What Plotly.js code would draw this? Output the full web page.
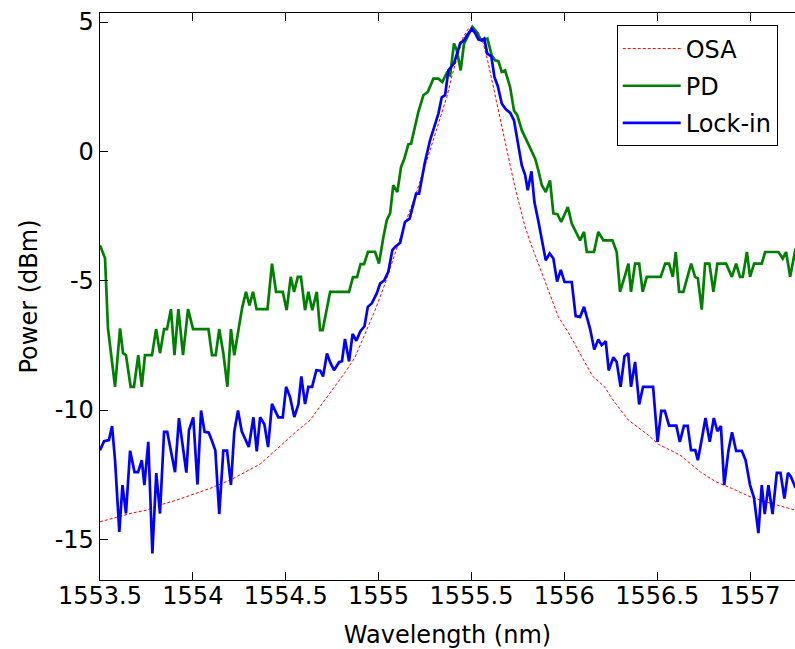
<!DOCTYPE html>
<html>
<head>
<meta charset="utf-8">
<script src="https://cdn.plot.ly/plotly-3.0.1.min.js"></script>
<style>html,body{margin:0;padding:0;background:#fff;}#chart{width:795px;height:649px;}</style>
</head>
<body>
<div id="chart"></div>
<script>
// OSA (red dotted) – wavelength (nm) and power (dBm)
const osaWl = [1553.500,1553.590,1553.679,1553.751,1553.823,1553.913,1554.002,1554.092,1554.200,1554.272,1554.362,1554.452,1554.541,1554.631,1554.685,1554.775,1554.828,1554.873,1554.927,1554.981,1555.035,1555.089,1555.142,1555.196,1555.232,1555.277,1555.322,1555.367,1555.403,1555.430,1555.456,1555.483,1555.510,1555.537,1555.564,1555.591,1555.618,1555.645,1555.672,1555.699,1555.726,1555.752,1555.789,1555.816,1555.860,1555.914,1555.968,1556.021,1556.076,1556.152,1556.219,1556.255,1556.345,1556.452,1556.506,1556.623,1556.734,1556.815,1556.902,1557.000,1557.108,1557.243,1557.260];
const osaPw = [-14.32,-14.15,-13.97,-13.87,-13.67,-13.48,-13.25,-13.03,-12.71,-12.44,-12.09,-11.51,-10.93,-10.39,-9.85,-9.00,-8.46,-7.96,-7.04,-6.14,-5.11,-3.95,-2.79,-1.76,-0.99,0.04,1.07,2.10,3.13,3.78,4.42,4.74,4.81,4.61,4.17,3.39,2.49,1.46,0.69,-0.22,-1.12,-1.89,-2.92,-3.50,-4.34,-5.37,-6.40,-6.99,-7.69,-8.69,-9.12,-9.54,-10.39,-10.97,-11.32,-11.74,-12.40,-12.77,-13.03,-13.35,-13.60,-13.86,-13.90];

// PD (green)
const pdWl = [1553.500,1553.527,1553.543,1553.581,1553.608,1553.624,1553.640,1553.665,1553.683,1553.706,1553.725,1553.742,1553.780,1553.802,1553.823,1553.845,1553.861,1553.882,1553.901,1553.922,1553.947,1553.974,1554.001,1554.084,1554.103,1554.123,1554.142,1554.164,1554.186,1554.205,1554.223,1554.245,1554.265,1554.286,1554.305,1554.324,1554.343,1554.402,1554.426,1554.448,1554.484,1554.505,1554.527,1554.545,1554.565,1554.582,1554.604,1554.622,1554.643,1554.667,1554.685,1554.699,1554.739,1554.841,1554.862,1554.884,1554.903,1554.922,1554.943,1554.981,1555.002,1555.026,1555.044,1555.062,1555.079,1555.101,1555.121,1555.139,1555.160,1555.175,1555.196,1555.214,1555.241,1555.265,1555.295,1555.322,1555.343,1555.367,1555.385,1555.406,1555.421,1555.442,1555.460,1555.483,1555.505,1555.529,1555.546,1555.564,1555.586,1555.609,1555.627,1555.645,1555.663,1555.681,1555.708,1555.729,1555.747,1555.771,1555.789,1555.816,1555.843,1555.860,1555.879,1555.900,1555.923,1555.941,1555.963,1555.983,1556.019,1556.040,1556.067,1556.085,1556.106,1556.121,1556.160,1556.183,1556.210,1556.259,1556.282,1556.300,1556.327,1556.345,1556.359,1556.381,1556.403,1556.422,1556.444,1556.519,1556.543,1556.564,1556.584,1556.600,1556.618,1556.641,1556.663,1556.683,1556.704,1556.719,1556.740,1556.758,1556.781,1556.803,1556.824,1556.871,1556.902,1556.925,1556.946,1556.961,1556.983,1557.000,1557.022,1557.063,1557.081,1557.153,1557.176,1557.194,1557.216,1557.243,1557.260];
const pdPw = [-3.63,-4.13,-6.84,-9.10,-6.84,-7.80,-7.88,-9.10,-9.10,-7.88,-9.10,-7.88,-7.88,-6.87,-7.80,-6.87,-6.87,-6.10,-7.88,-6.10,-7.88,-6.10,-6.87,-6.87,-7.88,-7.88,-6.87,-7.80,-9.10,-6.87,-7.88,-6.87,-6.06,-5.43,-5.95,-5.43,-6.10,-6.10,-4.34,-5.43,-5.43,-6.14,-4.85,-5.43,-4.85,-4.85,-6.14,-5.43,-6.14,-5.43,-6.91,-6.91,-5.43,-5.43,-4.86,-4.86,-4.36,-4.36,-3.88,-3.88,-4.34,-3.31,-2.66,-2.40,-1.31,-1.57,-0.60,-0.28,0.27,0.30,1.01,1.52,2.17,2.30,2.81,2.81,2.68,3.03,2.94,4.17,3.91,3.13,4.17,4.49,4.81,4.61,4.36,4.29,4.36,3.71,3.52,3.49,3.07,3.13,2.49,1.58,1.39,0.82,0.56,0.17,-0.28,-0.73,-1.31,-1.57,-1.12,-2.40,-2.43,-2.73,-2.15,-2.79,-3.18,-3.44,-3.11,-3.89,-3.89,-3.11,-3.44,-3.44,-3.89,-5.43,-4.79,-4.34,-5.43,-4.34,-4.34,-5.43,-4.85,-4.85,-4.34,-4.34,-4.85,-3.89,-5.43,-5.43,-4.85,-4.34,-4.85,-4.91,-6.12,-4.34,-4.34,-5.43,-4.34,-4.34,-4.85,-4.34,-4.85,-4.85,-3.89,-4.85,-4.34,-4.34,-3.89,-3.89,-4.14,-3.89,-4.85,-3.82,-3.60];

// Lock-in (blue)
const liWl = [1553.500,1553.522,1553.548,1553.565,1553.581,1553.604,1553.621,1553.640,1553.662,1553.686,1553.705,1553.725,1553.739,1553.760,1553.782,1553.803,1553.823,1553.845,1553.862,1553.904,1553.925,1553.965,1553.979,1554.002,1554.025,1554.044,1554.063,1554.085,1554.101,1554.121,1554.142,1554.164,1554.184,1554.205,1554.223,1554.243,1554.263,1554.301,1554.326,1554.344,1554.362,1554.385,1554.405,1554.426,1554.460,1554.484,1554.502,1554.523,1554.546,1554.568,1554.584,1554.604,1554.622,1554.642,1554.665,1554.686,1554.701,1554.722,1554.740,1554.760,1554.787,1554.803,1554.819,1554.841,1554.860,1554.880,1554.902,1554.924,1554.942,1554.963,1554.990,1555.008,1555.031,1555.052,1555.074,1555.089,1555.116,1555.142,1555.167,1555.182,1555.202,1555.218,1555.234,1555.250,1555.277,1555.289,1555.304,1555.322,1555.340,1555.358,1555.376,1555.394,1555.406,1555.421,1555.440,1555.460,1555.476,1555.502,1555.519,1555.537,1555.555,1555.569,1555.585,1555.607,1555.624,1555.642,1555.663,1555.685,1555.709,1555.729,1555.744,1555.752,1555.771,1555.789,1555.803,1555.823,1555.839,1555.861,1555.880,1555.900,1555.921,1555.941,1555.961,1555.981,1556.001,1556.040,1556.061,1556.085,1556.106,1556.139,1556.161,1556.183,1556.201,1556.223,1556.239,1556.264,1556.282,1556.303,1556.324,1556.344,1556.359,1556.381,1556.403,1556.424,1556.478,1556.502,1556.522,1556.541,1556.564,1556.603,1556.622,1556.644,1556.664,1556.682,1556.705,1556.719,1556.741,1556.760,1556.783,1556.805,1556.824,1556.843,1556.861,1556.884,1556.903,1556.925,1556.956,1556.976,1557.000,1557.021,1557.045,1557.063,1557.079,1557.099,1557.121,1557.144,1557.164,1557.185,1557.204,1557.220,1557.243,1557.260];
const liPw = [-11.55,-11.20,-11.16,-10.62,-11.94,-14.71,-12.90,-14.00,-11.57,-12.40,-12.40,-11.94,-12.90,-11.23,-15.54,-12.44,-14.00,-10.84,-10.84,-12.40,-10.31,-12.42,-10.78,-10.28,-12.88,-10.02,-10.84,-10.87,-11.16,-11.56,-14.02,-11.57,-11.57,-12.89,-10.84,-10.02,-10.82,-11.43,-10.28,-11.60,-10.28,-10.55,-11.43,-9.76,-10.28,-10.28,-9.10,-9.49,-10.27,-9.78,-8.70,-9.77,-9.10,-9.10,-8.46,-8.48,-8.70,-7.81,-8.17,-8.46,-8.15,-8.11,-7.25,-8.12,-7.06,-7.32,-6.95,-6.76,-6.01,-5.88,-5.49,-5.11,-4.98,-4.66,-3.82,-3.69,-3.53,-2.73,-2.60,-2.21,-1.63,-1.63,-0.99,-0.40,0.43,0.69,0.98,1.46,2.09,2.17,3.13,3.31,3.40,3.75,4.20,4.29,4.49,4.73,4.58,4.33,4.29,4.36,3.78,3.67,2.87,2.52,1.85,1.63,1.49,1.20,0.56,0.11,-0.54,-0.92,-1.50,-0.77,-1.96,-2.73,-3.50,-4.21,-3.95,-4.14,-5.03,-4.58,-5.05,-5.05,-6.37,-6.40,-6.01,-6.87,-7.66,-7.27,-7.49,-7.34,-8.47,-7.96,-8.14,-9.10,-7.92,-7.81,-9.10,-8.14,-9.78,-9.10,-9.10,-11.23,-10.03,-10.03,-10.60,-10.60,-11.23,-10.61,-10.61,-11.55,-11.55,-11.94,-11.09,-10.31,-11.23,-10.31,-10.82,-10.62,-12.90,-11.55,-10.86,-11.58,-11.58,-11.94,-12.90,-13.38,-14.76,-12.90,-14.02,-12.90,-14.02,-12.43,-12.43,-13.42,-12.43,-12.58,-12.97,-13.10];

const xTickVals = [1553.5,1554,1554.5,1555,1555.5,1556,1556.5,1557];
const xTickText = ["1553.5","1554","1554.5","1555","1555.5","1556","1556.5","1557"];
const yTickVals = [-15,-10,-5,0,5];
const yTickText = ["-15","-10","-5","0","5"];

const traces = [
  {x: osaWl, y: osaPw, name: "OSA", mode: "lines", legendgroup: "a",
   line: {color: "#ff0000", width: 1, dash: "3px,2px"}},
  {x: pdWl, y: pdPw, name: "PD", mode: "lines", legendgroup: "b",
   line: {color: "#008000", width: 2.7}},
  {x: liWl, y: liPw, name: "Lock-in", mode: "lines", legendgroup: "c",
   line: {color: "#0000ff", width: 2.7}}
];

const layout = {
  width: 795, height: 649,
  margin: {l: 100, r: 0, t: 13, b: 69, pad: 0},
  paper_bgcolor: "#fff", plot_bgcolor: "#fff",
  font: {family: "DejaVu Sans", size: 24, color: "#000"},
  showlegend: true,
  legend: {x: 0.7435, y: 0.978, xanchor: "left", yanchor: "top",
           bgcolor: "#fff", bordercolor: "#000", borderwidth: 1,
           font: {family: "DejaVu Sans", size: 24, color: "#000"},
           itemwidth: 58, tracegroupgap: 3},
  xaxis: {range: [1553.5, 1557.242], tickvals: xTickVals, ticktext: xTickText,
          ticks: "inside", ticklen: 8, tickwidth: 1, tickcolor: "#000",
          ticklabelstandoff: -6,
          showline: true, linecolor: "#000", linewidth: 1.3, mirror: "ticks",
          showgrid: false, zeroline: false,
          title: {text: "Wavelength (nm)", font: {size: 24}, standoff: 32}},
  yaxis: {range: [-16.57, 5.35], tickvals: yTickVals, ticktext: yTickText,
          ticks: "inside", ticklen: 8, tickwidth: 1, tickcolor: "#000",
          showline: true, linecolor: "#000", linewidth: 1.3, mirror: false,
          showgrid: false, zeroline: false,
          title: {text: "Power (dBm)", font: {size: 24}, standoff: 10}}
};

Plotly.newPlot("chart", traces, layout, {displayModeBar: false, staticPlot: true});
</script>
</body>
</html>
